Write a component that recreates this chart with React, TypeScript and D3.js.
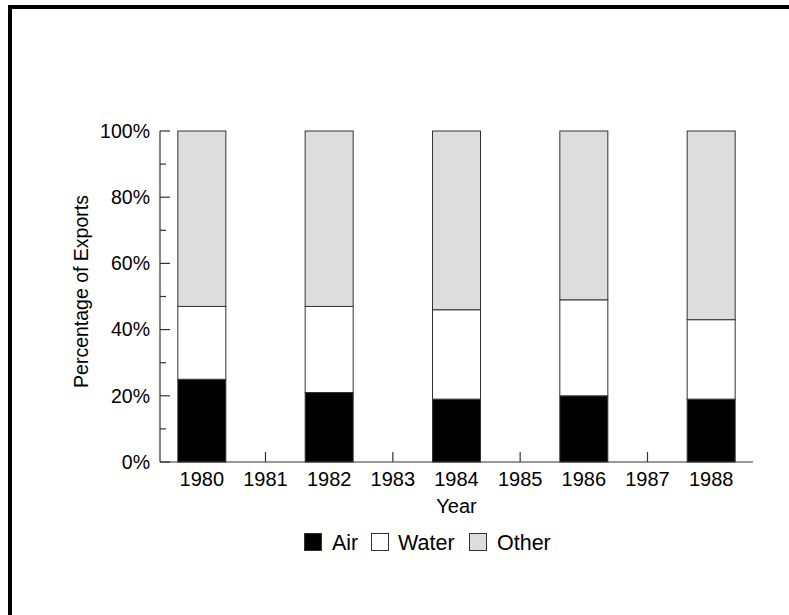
import React from "react";
import * as d3 from "d3";

const years = ["1980", "1981", "1982", "1983", "1984", "1985", "1986", "1987", "1988"];
const dataYears = ["1980", "1982", "1984", "1986", "1988"];
const air = [25, 21, 19, 20, 19];
const water = [22, 26, 27, 29, 24];
const other = [53, 53, 54, 51, 57];
const seriesNames = ["Air", "Water", "Other"];
const seriesColors = ["#000000", "#ffffff", "#dddddd"];
const yTicks = [0, 20, 40, 60, 80, 100];
const yMinorTicks = [10, 30, 50, 70, 90];

const FONT = "'Liberation Sans', Arial, Helvetica, sans-serif";

export default function App() {
  const W = 789, H = 615;
  const left = 160, right = 753, top = 131, bottom = 462;

  const x = d3.scalePoint<string>().domain(years).range([left, right]).padding(0.657);
  const y = d3.scaleLinear().domain([0, 100]).range([bottom, top]);
  const barW = 48;

  const rows = dataYears.map((yr, i) => ({ year: yr, Air: air[i], Water: water[i], Other: other[i] }));
  const stack = d3.stack<any>().keys(seriesNames);
  const layers = stack(rows);

  const axisColor = "#333";
  const legendX = [304, 371, 469];
  const legendTextX = [332, 398, 497];

  return (
    <div style={{ position: "absolute", left: 0, top: 0 }}>
      <svg width={W} height={H} style={{ display: "block" }}>
        <rect x={0} y={0} width={W} height={H} fill="#fff" />
        <path d={`M10,${H} L10,7 L${W},7`} fill="none" stroke="#000" strokeWidth={4} />

        {layers.map((layer, li) => (
          <g key={layer.key}>
            {layer.map((d, i) => (
              <rect
                key={i}
                x={(x(d.data.year) as number) - barW / 2}
                y={y(d[1])}
                width={barW}
                height={y(d[0]) - y(d[1])}
                fill={seriesColors[li]}
                stroke="#333"
                strokeWidth={1}
              />
            ))}
          </g>
        ))}

        {/* Y axis */}
        <line x1={left} x2={left} y1={top} y2={bottom} stroke={axisColor} strokeWidth={1.2} />
        {yTicks.map((t) => (
          <g key={t}>
            <line x1={left} x2={left + 10} y1={y(t)} y2={y(t)} stroke={axisColor} strokeWidth={1.2} />
            <text x={left - 10} y={y(t)} dy="0.35em" textAnchor="end" fontFamily={FONT} fontSize={19.5} fill="#000">
              {t}%
            </text>
          </g>
        ))}
        {yMinorTicks.map((t) => (
          <line key={t} x1={left} x2={left + 6} y1={y(t)} y2={y(t)} stroke={axisColor} strokeWidth={1.2} />
        ))}

        {/* X axis */}
        <line x1={left} x2={right} y1={bottom} y2={bottom} stroke={axisColor} strokeWidth={1.2} />
        {years.map((yr) => (
          <g key={yr}>
            {!dataYears.includes(yr) && (
              <line x1={x(yr)} x2={x(yr)} y1={bottom} y2={bottom - 10} stroke={axisColor} strokeWidth={1.2} />
            )}
            <text x={x(yr)} y={486} textAnchor="middle" fontFamily={FONT} fontSize={20} fill="#000">
              {yr}
            </text>
          </g>
        ))}

        <text x={(left + right) / 2} y={513} textAnchor="middle" fontFamily={FONT} fontSize={20} fill="#000">
          Year
        </text>
        <text
          transform={`translate(88, ${(top + bottom) / 2 - 5}) rotate(-90)`}
          textAnchor="middle"
          fontFamily={FONT}
          fontSize={19.5}
          fill="#000"
        >
          Percentage of Exports
        </text>

        {/* Legend */}
        {seriesNames.map((name, i) => (
          <g key={name}>
            <rect x={legendX[i] + 0.5} y={533.5} width={17} height={17} fill={seriesColors[i]} stroke="#333" strokeWidth={1} />
            <text x={legendTextX[i]} y={549.5} fontFamily={FONT} fontSize={21.5} fill="#000">
              {name}
            </text>
          </g>
        ))}
      </svg>
    </div>
  );
}
